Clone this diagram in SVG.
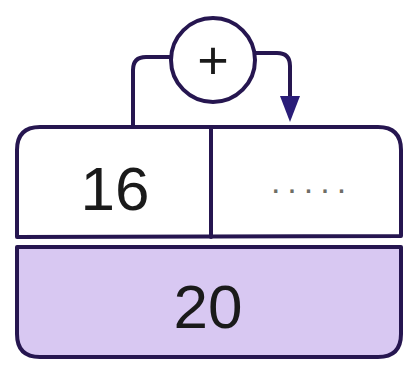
<svg xmlns="http://www.w3.org/2000/svg" width="407" height="370" viewBox="0 0 407 370">
<style>
.ln{fill:none;stroke:#261650;stroke-width:4;stroke-linejoin:round;stroke-linecap:round}
.num{font-family:"Liberation Sans",Arial,sans-serif;font-size:62px;fill:#1a1a1a;text-anchor:middle}
</style>
<rect width="407" height="370" fill="#ffffff"/>
<g id="connectors">
<path class="ln" d="M133,126 V70 Q133,57 146,57 H171"/>
<path class="ln" d="M255,53 H277 Q290,53 290,66 V100"/>
<polygon points="280,96 300,96 290,122" fill="#2a1d78"/>
</g>
<g id="plus">
<circle cx="213" cy="60" r="42" class="ln" style="fill:#ffffff"/>
<text x="213" y="79" style="font-family:'Liberation Sans',Arial,sans-serif;font-size:54px;fill:#1a1a1a;text-anchor:middle">+</text>
</g>
<g id="top">
<path class="ln" d="M17,237 V150 Q17,127 40,127 H378 Q401,127 401,150 V236 Z" style="fill:#ffffff"/>
<line class="ln" x1="211" y1="127" x2="211" y2="237"/>
<text class="num" x="115" y="210">16</text>
<text x="312" y="193" style="font-family:'Liberation Sans',Arial,sans-serif;font-size:34px;fill:#6e6e66;text-anchor:middle;letter-spacing:7px">.....</text>
</g>
<g id="bottom">
<path class="ln" d="M17,247 H401 V334 Q401,357 378,357 H40 Q17,357 17,334 Z" style="fill:#d8c8f2"/>
<text class="num" x="208" y="328">20</text>
</g>
</svg>
